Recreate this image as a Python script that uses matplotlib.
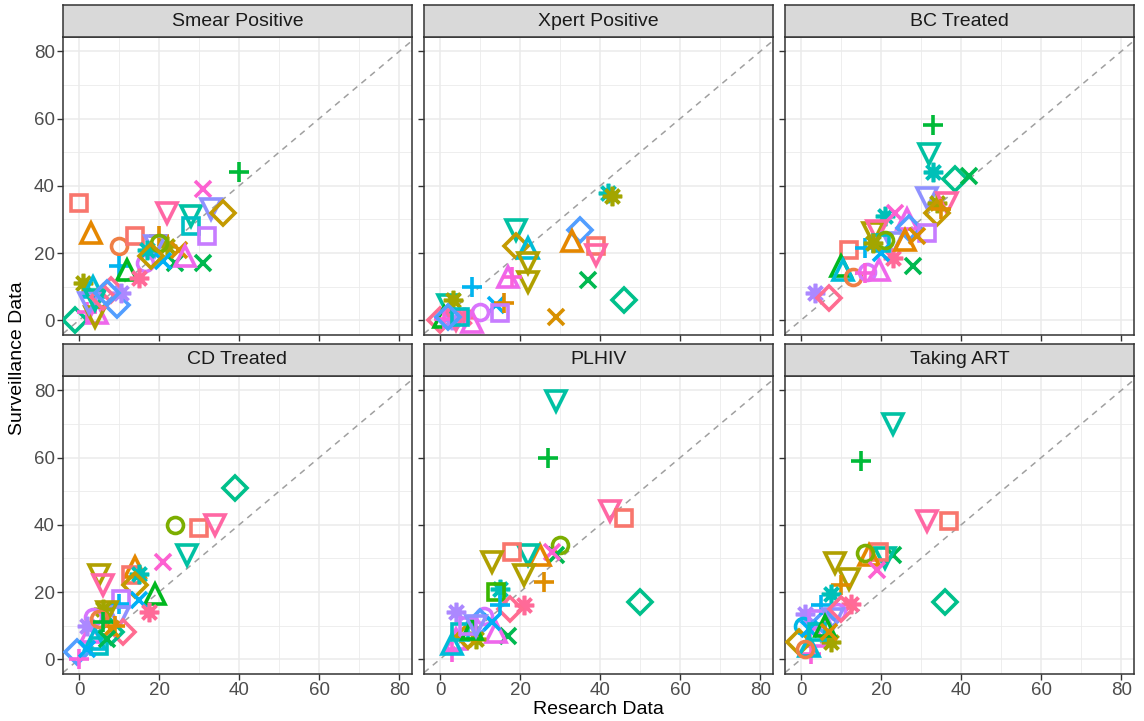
import numpy as np
import matplotlib.pyplot as plt

plt.rcParams['font.family'] = ['Liberation Sans', 'DejaVu Sans']

# group styles (colour, shape) - one per country
grp_colors = ['#F8766D', '#FF6A98', '#E58700', '#EF7F45', '#DE8C00', '#D89000',
              '#A3A500', '#B0A000', '#C49A00', '#7CAE00', '#00BA38', '#00B950',
              '#00B81F', '#00C08B', '#00C1A3', '#00C0B8', '#00BFC4', '#00B4F0',
              '#00B0F6', '#00BCD8', '#529EFF', '#8F91FF', '#C77CFF', '#D874FD',
              '#AC88FF', '#EE67EB', '#FD61D1', '#FA62DB', '#FF67A4', '#FF6C91',
              '#A3A500', '#39B600', '#00B8E7']
grp_shapes = ['s', '*', '^', 'o', '+', 'x', '*', 'v', 'D', 'o', '+', 'x',
              '^', 'D', 'v', '*', 's', '+', 'x', '^', 'D', 'v', 's', 'o',
              '*', '^', 'x', '+', 'v', 'D', 's', 's', 'o']

panels = ['Smear Positive', 'Xpert Positive', 'BC Treated',
          'CD Treated', 'PLHIV', 'Taking ART']

smear_g = [0, 2, 3, 0, 10, 26, 28, 14, 16, 21, 8, 22, 11, 11, 4, 6, 21, 5, 25, 23,
           18, 17, 12, 1, 6, 19, 29, 20, 24, 13, 27, 25, 7, 21, 15, 9, 8, 14, 29, 20]
smear_x = [0, 3, 10, 14, 40, 31, 22, 28, 28, 33, 36, 32, 31, 24, 20, 22, 19, 25, 26.5, 16.5,
           21, 10, 12, 15, 1, 3.5, 8, 9.5, 10.5, -1, 2, 4.5, 4, 2.5, 17, 20, 18, 4, 6, 7]
smear_y = [35, 26, 22, 25, 44, 39, 32, 31, 28, 33, 32, 25, 17, 17, 25, 22, 22, 21, 19, 17,
           17.5, 16, 15, 12.5, 11, 10, 9, 4.5, 8, 0, 2.5, 2, 1, 5, 21, 23, 19, 6, 7, 8]

xpert_g = [15, 6, 20, 2, 0, 28, 14, 8, 19, 7, 7, 25, 27, 11, 13, 5, 17, 18, 4, 22,
           14, 6, 23, 1, 29, 12, 25, 24, 28, 27, 16, 20]
xpert_x = [42, 43, 35, 33, 39, 39, 19, 19, 22, 22, 22, 17, 18, 37, 46, 29, 8, 14, 16, 15,
           2, 3.3, 10, 6, 0, 1, 8, 3, 4, 1, 5, 2]
xpert_y = [38, 37, 27, 23.5, 22, 19.5, 27, 22, 21.5, 17, 11.5, 13, 13, 12, 6, 1, 10, 4.5, 5, 2,
           4.5, 6, 2.5, 1, 0, 1, -0.5, 0, 0, 0.5, 1, 1]

bc_g = [10, 14, 15, 13, 11, 21, 6, 28, 8, 4, 15, 26, 25, 20, 22, 5, 7, 28, 21, 0,
        17, 1, 11, 12, 19, 3, 23, 27, 25, 24, 29, 16, 18, 9, 2, 6]
bc_x = [33, 32, 33, 38.5, 42, 31.5, 34, 36.5, 34, 35, 21, 23.5, 26.5, 27, 31.5, 29, 18, 19, 23, 12,
        16, 23, 28, 10, 10.5, 13, 16.5, 16, 19.5, 3.5, 7, 20, 20, 21, 26, 18]
bc_y = [58, 49.5, 44, 42, 43, 36.5, 35, 35, 32, 33, 31, 32, 30, 27.5, 26, 25, 26, 26.5, 23, 21,
        21.5, 18.5, 16, 16, 15, 13, 14.5, 14, 15, 8, 6.5, 23, 20, 24, 24, 23]

cd_g = [13, 9, 0, 28, 14, 26, 7, 28, 2, 0, 15, 8, 12, 18, 22, 1, 17, 21, 29, 7,
        6, 23, 25, 20, 27, 24, 13, 19, 16, 5, 4, 3, 10, 11, 18]
cd_x = [39, 24, 30, 34, 27, 21, 5, 6, 14, 13, 15, 14, 19, 15, 10.5, 17.5, 10, 10, 11, 7,
        6, 3.5, 3, -0.5, 0, 2, 8, 4, 5, 8, 9, 5, 6, 7, 2]
cd_y = [51, 40, 39, 40, 31, 29, 25, 22, 27.5, 25, 25.5, 22, 19.5, 17.5, 18, 14, 16.5, 12.5, 8, 14,
        15, 12.5, 8, 2, 0, 10, 8, 6, 4, 9, 10, 12, 11, 6, 3]

plhiv_g = [14, 10, 28, 0, 13, 9, 11, 26, 2, 14, 0, 7, 7, 4, 1, 15, 31, 29, 11, 24,
           23, 20, 25, 25, 27, 19, 6, 8, 17, 18, 16, 12, 22, 21]
plhiv_x = [29, 27, 42.5, 46, 50, 30, 29, 28, 25, 22, 18, 13, 21, 26, 21, 15, 14, 17.5, 17, 4,
           11, 10, 14, 4, 3, 3, 9, 7, 15, 13, 5, 8, 7, 9]
plhiv_y = [77, 60, 44, 42, 17, 34, 31, 32, 31, 31, 32, 29, 25, 23, 16, 21, 20, 15, 7, 14,
           13, 11, 8, 6, 2, 4.5, 6, 7, 16, 11, 8, 9, 10, 10]

art_g = [14, 10, 28, 0, 13, 11, 14, 0, 2, 9, 26, 7, 7, 4, 15, 1, 23, 24, 32, 20,
         25, 6, 27, 8, 19, 17, 22, 21, 18, 16, 12, 29, 5, 3]
art_x = [23, 15, 31.5, 37, 36, 23, 21, 19.5, 17, 16, 19, 8.5, 12, 10, 7.5, 12.5, 9, 1, 0.5, 6,
         3.5, 7.5, 2.5, -0.5, 2, 5, 4, 8, 2, 4, 6, 10, 7, 1]
art_y = [70, 59, 41, 41, 17, 31, 30, 32, 31, 31.5, 26.5, 28.5, 24, 22, 19.5, 16.5, 14, 13.5, 10, 11,
         7, 5, 1.5, 5, 4, 16, 12, 12, 9, 8, 10, 15, 8, 3]

panel_data = [(smear_x, smear_y, smear_g), (xpert_x, xpert_y, xpert_g),
              (bc_x, bc_y, bc_g), (cd_x, cd_y, cd_g),
              (plhiv_x, plhiv_y, plhiv_g), (art_x, art_y, art_g)]

marker_map = {'s': ('s', 11), 'o': ('o', 11.5), '^': ('^', 14), 'v': ('v', 14),
              '+': ('+', 14.5), 'x': ('x', 12), 'D': ('D', 12), '*': ((8, 2, 0), 14)}

W, H = 1144, 721
fig = plt.figure(figsize=(W / 100, H / 100), dpi=100)

lefts = [63, 424, 785]
tops = [37, 376]
pw, ph, sh = 349, 298, 32

for i, name in enumerate(panels):
    r, c = divmod(i, 3)
    l, t = lefts[c], tops[r]
    ax = fig.add_axes([l / W, 1 - (t + ph) / H, pw / W, ph / H])
    sax = fig.add_axes([l / W, 1 - t / H, pw / W, sh / H])
    sax.set_facecolor('#D9D9D9')
    sax.set_xticks([]); sax.set_yticks([])
    for sp in sax.spines.values():
        sp.set_color('#333333'); sp.set_linewidth(1.1)
    sax.text(0.5, 0.5, name, ha='center', va='center', fontsize=14, color='#1A1A1A',
             transform=sax.transAxes)

    ax.set_xlim(-4, 83.2)
    ax.set_ylim(-4.4, 84.3)
    ax.set_xticks([0, 20, 40, 60, 80])
    ax.set_yticks([0, 20, 40, 60, 80])
    ax.set_xticks([10, 30, 50, 70], minor=True)
    ax.set_yticks([10, 30, 50, 70], minor=True)
    ax.grid(True, which='major', color='#EBEBEB', linewidth=1.1)
    ax.grid(True, which='minor', color='#EBEBEB', linewidth=0.6)
    ax.set_axisbelow(True)
    ax.tick_params(which='minor', length=0)
    ax.tick_params(which='major', length=4, width=1, color='#333333',
                   labelsize=13.5, labelcolor='#4D4D4D', pad=2)
    if c != 0:
        ax.set_yticklabels([])
    if r == 0:
        ax.set_xticklabels([])
    for sp in ax.spines.values():
        sp.set_color('#333333'); sp.set_linewidth(1.1)

    ax.axline((0, 0), slope=1, color='#A0A0A0', linestyle=(0, (4, 3.5)), linewidth=1.1, zorder=1)

    xs, ys, gs = panel_data[i]
    for x, y, g in zip(xs, ys, gs):
        m, ms = marker_map[grp_shapes[g]]
        ax.plot([x], [y], linestyle='none', marker=m, markersize=ms,
                markerfacecolor='none', markeredgecolor=grp_colors[g],
                markeredgewidth=2.6, zorder=3)

fig.text(598 / W, 1 - 710 / H, 'Research Data', ha='center', va='center', fontsize=14)
fig.text(18 / W, 1 - 358 / H, 'Surveillance Data', ha='center', va='center',
         rotation=90, fontsize=14)

fig.savefig('out.png', dpi=100, facecolor='white')
